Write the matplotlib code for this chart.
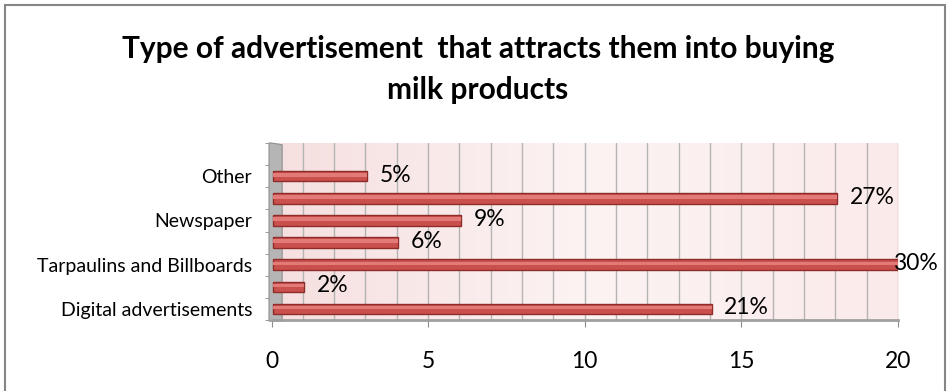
import numpy as np
import matplotlib.pyplot as plt
from matplotlib.patches import Rectangle, Polygon
from matplotlib.colors import LinearSegmentedColormap

# bottom to top, only every other label is printed on the chart
categories = ['Digital advertisements', '', 'Tarpaulins and Billboards', '',
              'Newspaper', '', 'Other']
counts = [14, 1, 20, 4, 6, 18, 3]
percents = ['21%', '2%', '30%', '6%', '9%', '27%', '5%']
xticks = [0, 5, 10, 15, 20]
title_lines = ['Type of advertisement  that attracts them into buying',
               'milk products']

plt.rcParams['font.family'] = ['Lato', 'DejaVu Sans']

W, H = 949, 391
fig = plt.figure(figsize=(W / 100, H / 100), dpi=100)

# outer chart frame (bottom edge falls outside the picture)
fig.patches.append(Rectangle((5 / W, -0.05), 940 / W, 1.05 - 5 / H,
                             transform=fig.transFigure, fill=False,
                             edgecolor='#868686', linewidth=1.5))

fig.text(478 / W, 1 - 58 / H, title_lines[0], ha='center', va='baseline',
         fontsize=21.5, fontweight='bold')
fig.text(478 / W, 1 - 99 / H, title_lines[1], ha='center', va='baseline',
         fontsize=21.5, fontweight='bold')

ax = fig.add_axes([271.5 / W, 1 - 320 / H, 626.5 / W, 177 / H])
ax.set_xlim(0, 20)
ax.set_ylim(-0.5, 7.5)

# pinkish gradient on the back wall
grad = np.linspace(0, 1, 256).reshape(1, -1)
ax.imshow(grad, extent=[0, 20, -0.5, 7.5], aspect='auto', zorder=0,
          cmap=LinearSegmentedColormap.from_list(
              'wall', ['#f6dfdf', '#fcf3f3', '#fbeaea']))

for x in range(1, 21):
    ax.axvline(x, color='#b4b4b4', linewidth=1, zorder=1)

# left side wall
ax.add_patch(Polygon([(-0.08, -0.55), (-0.08, 7.5), (0.0, 7.5), (0.34, 7.42),
                      (0.34, -0.55)], closed=True, facecolor='#b5b5b5',
                     edgecolor='#909090', linewidth=0.8, zorder=2, clip_on=False))

y = np.arange(len(categories))
ax.barh(y, counts, height=0.48, left=0.05, color='#c9504d', edgecolor='#8e2c2a',
        linewidth=1, zorder=3)
ax.barh(y + 0.06, counts, height=0.16, left=0.05, color='#e27b78',
        linewidth=0, zorder=4)

for yi, v, p in zip(y, counts, percents):
    lx = min(v + 0.45, 19.85)
    ax.text(lx, yi + 0.05, p, va='center', ha='left', fontsize=16.5, zorder=5)

ax.set_yticks(y)
ax.set_yticklabels(categories, fontsize=14)
ax.set_yticks(np.arange(-0.5, 8, 1), minor=True)
ax.tick_params(axis='y', which='major', length=0, pad=14)
ax.tick_params(axis='y', which='minor', length=5, color='#8c8c8c',
               direction='out', pad=0)

ax.set_xticks(xticks)
ax.set_xticklabels([str(t) for t in xticks], fontsize=16.5)
ax.tick_params(axis='x', length=5, color='#8c8c8c', pad=17)

for s in ['top', 'right', 'left']:
    ax.spines[s].set_visible(False)
ax.spines['bottom'].set_color('#a0a0a0')
ax.spines['bottom'].set_linewidth(2)

fig.savefig('out.png', dpi=100)
